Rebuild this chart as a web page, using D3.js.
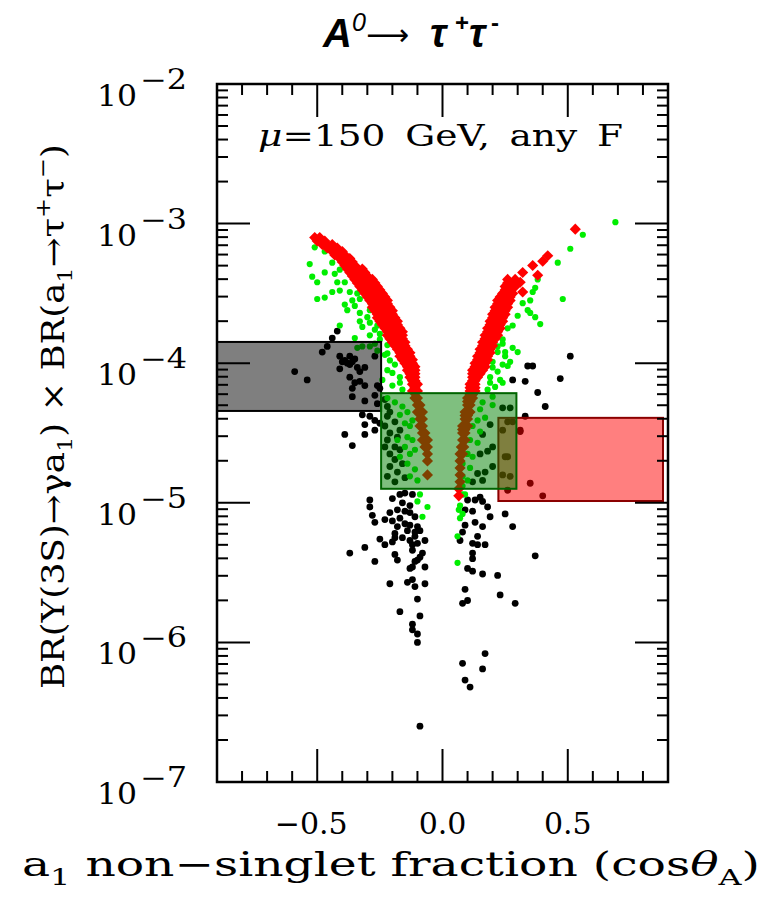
<!DOCTYPE html>
<html>
<head>
<meta charset="utf-8">
<script src="https://cdn.jsdelivr.net/npm/d3@7"></script>
<style>
  body { margin: 0; background: #fff; }
  svg text { fill: #000; }
</style>
</head>
<body>
<div id="chart"></div>
<script>
/*
------------------------------
DATA: points, as [cos(theta_A), log10 BR]
------------------------------
*/
const redPoints = [
  [-0.51,-3.10],[-0.49,-3.10],[-0.50,-3.125],[-0.47,-3.125],
  [-0.48,-3.15],[-0.46,-3.15],[-0.44,-3.15],
  [-0.46,-3.175],[-0.44,-3.175],[-0.42,-3.175],
  [-0.44,-3.20],[-0.42,-3.20],[-0.40,-3.20],
  [-0.43,-3.225],[-0.41,-3.225],[-0.39,-3.225],
  [-0.41,-3.25],[-0.39,-3.25],[-0.37,-3.25],
  [-0.40,-3.275],[-0.38,-3.275],[-0.36,-3.275],
  [-0.39,-3.30],[-0.37,-3.30],[-0.35,-3.30],
  [-0.38,-3.325],[-0.36,-3.325],[-0.34,-3.325],[-0.32,-3.325],
  [-0.37,-3.35],[-0.35,-3.35],[-0.33,-3.35],[-0.31,-3.35],
  [-0.36,-3.375],[-0.34,-3.375],[-0.32,-3.375],[-0.30,-3.375],
  [-0.35,-3.40],[-0.33,-3.40],[-0.30,-3.40],[-0.28,-3.40],
  [-0.34,-3.425],[-0.32,-3.425],[-0.29,-3.425],[-0.27,-3.425],
  [-0.33,-3.45],[-0.31,-3.45],[-0.28,-3.45],[-0.26,-3.45],
  [-0.32,-3.475],[-0.30,-3.475],[-0.27,-3.475],[-0.25,-3.475],
  [-0.31,-3.50],[-0.29,-3.50],[-0.26,-3.50],[-0.24,-3.50],
  [-0.30,-3.525],[-0.28,-3.525],[-0.26,-3.525],[-0.23,-3.525],
  [-0.29,-3.55],[-0.27,-3.55],[-0.25,-3.55],[-0.22,-3.55],
  [-0.28,-3.575],[-0.26,-3.575],[-0.24,-3.575],[-0.22,-3.575],
  [-0.28,-3.60],[-0.25,-3.60],[-0.23,-3.60],[-0.21,-3.60],
  [-0.27,-3.625],[-0.25,-3.625],[-0.22,-3.625],[-0.20,-3.625],
  [-0.26,-3.65],[-0.24,-3.65],[-0.22,-3.65],[-0.20,-3.65],
  [-0.26,-3.675],[-0.23,-3.675],[-0.21,-3.675],[-0.19,-3.675],
  [-0.25,-3.70],[-0.22,-3.70],[-0.20,-3.70],[-0.18,-3.70],
  [-0.24,-3.725],[-0.22,-3.725],[-0.20,-3.725],[-0.18,-3.725],
  [-0.23,-3.75],[-0.21,-3.75],[-0.19,-3.75],[-0.17,-3.75],
  [-0.22,-3.775],[-0.20,-3.775],[-0.18,-3.775],[-0.16,-3.775],
  [-0.22,-3.80],[-0.19,-3.80],[-0.17,-3.80],[-0.16,-3.80],
  [-0.21,-3.825],[-0.19,-3.825],[-0.16,-3.825],
  [-0.20,-3.85],[-0.18,-3.85],[-0.15,-3.85],
  [-0.19,-3.875],[-0.17,-3.875],[-0.15,-3.875],
  [-0.18,-3.90],[-0.16,-3.90],[-0.14,-3.90],
  [-0.17,-3.925],[-0.15,-3.925],[-0.13,-3.925],
  [-0.17,-3.95],[-0.15,-3.95],[-0.13,-3.95],
  [-0.16,-3.975],[-0.14,-3.975],[-0.12,-3.975],
  [-0.15,-4.00],[-0.14,-4.00],[-0.12,-4.00],
  [-0.14,-4.025],[-0.13,-4.025],[-0.11,-4.025],
  [-0.14,-4.05],[-0.12,-4.05],[-0.11,-4.05],
  [-0.13,-4.075],[-0.11,-4.075],
  [-0.13,-4.10],[-0.11,-4.10],
  [-0.12,-4.125],[-0.11,-4.125],
  [-0.12,-4.15],[-0.10,-4.15],
  [-0.11,-4.175],
  [-0.12,-4.20],[-0.10,-4.20],
  [-0.11,-4.25],[-0.10,-4.25],
  [-0.10,-4.30],[-0.09,-4.30],
  [-0.10,-4.35],[-0.08,-4.35],
  [-0.09,-4.40],[-0.08,-4.40],
  [-0.09,-4.45],[-0.08,-4.45],
  [-0.08,-4.50],[-0.07,-4.50],
  [-0.08,-4.55],[-0.06,-4.55],
  [-0.07,-4.60],[-0.06,-4.60],
  [-0.06,-4.65],[-0.06,-4.70],[-0.06,-4.80],
  [0.53,-3.04],[0.42,-3.23],[0.40,-3.27],[0.36,-3.30],[0.38,-3.37],
  [0.32,-3.35],[0.31,-3.42],[0.28,-3.43],[0.32,-3.49],
  [0.26,-3.40],[0.29,-3.40],[0.26,-3.425],[0.28,-3.425],
  [0.25,-3.45],[0.27,-3.45],[0.29,-3.45],
  [0.25,-3.475],[0.27,-3.475],
  [0.24,-3.50],[0.26,-3.50],[0.28,-3.50],
  [0.23,-3.525],[0.25,-3.525],[0.27,-3.525],
  [0.22,-3.55],[0.25,-3.55],[0.27,-3.55],
  [0.22,-3.575],[0.24,-3.575],[0.26,-3.575],
  [0.21,-3.60],[0.24,-3.60],[0.26,-3.60],
  [0.21,-3.625],[0.23,-3.625],[0.25,-3.625],
  [0.20,-3.65],[0.22,-3.65],[0.25,-3.65],
  [0.20,-3.675],[0.22,-3.675],[0.24,-3.675],
  [0.19,-3.70],[0.22,-3.70],[0.24,-3.70],
  [0.19,-3.725],[0.21,-3.725],[0.23,-3.725],
  [0.18,-3.75],[0.20,-3.75],[0.23,-3.75],
  [0.18,-3.775],[0.20,-3.775],[0.22,-3.775],
  [0.17,-3.80],[0.19,-3.80],[0.22,-3.80],
  [0.17,-3.825],[0.19,-3.825],[0.21,-3.825],
  [0.16,-3.85],[0.18,-3.85],[0.20,-3.85],
  [0.16,-3.875],[0.18,-3.875],[0.20,-3.875],
  [0.15,-3.90],[0.17,-3.90],[0.19,-3.90],
  [0.15,-3.925],[0.17,-3.925],[0.19,-3.925],
  [0.14,-3.95],[0.16,-3.95],[0.18,-3.95],
  [0.14,-3.975],[0.16,-3.975],[0.18,-3.975],
  [0.13,-4.00],[0.15,-4.00],[0.17,-4.00],
  [0.13,-4.025],[0.15,-4.025],[0.17,-4.025],
  [0.12,-4.05],[0.14,-4.05],[0.16,-4.05],
  [0.12,-4.075],[0.14,-4.075],[0.15,-4.075],
  [0.12,-4.10],[0.14,-4.10],
  [0.12,-4.125],[0.13,-4.125],
  [0.11,-4.15],[0.13,-4.15],
  [0.11,-4.175],[0.13,-4.175],
  [0.11,-4.20],[0.13,-4.20],
  [0.11,-4.225],[0.12,-4.225],
  [0.10,-4.25],[0.12,-4.25],
  [0.10,-4.275],[0.11,-4.275],
  [0.10,-4.30],[0.11,-4.30],
  [0.09,-4.35],[0.11,-4.35],
  [0.09,-4.375],[0.10,-4.375],
  [0.09,-4.40],[0.10,-4.40],
  [0.08,-4.45],[0.10,-4.45],
  [0.08,-4.475],[0.09,-4.475],
  [0.08,-4.50],[0.09,-4.50],
  [0.08,-4.55],[0.09,-4.55],
  [0.075,-4.60],[0.085,-4.60],
  [0.07,-4.65],[0.08,-4.65],
  [0.07,-4.70],[0.07,-4.75],[0.07,-4.80],[0.07,-4.85],[0.065,-4.90],[0.065,-4.95]
];

const greenPoints = [
  [-0.51,-3.17],[-0.47,-3.20],[-0.53,-3.29],[-0.47,-3.35],[-0.44,-3.28],[-0.52,-3.38],
  [-0.50,-3.42],[-0.43,-3.36],[-0.42,-3.42],[-0.41,-3.33],[-0.39,-3.42],[-0.41,-3.48],
  [-0.44,-3.49],[-0.50,-3.54],[-0.47,-3.53],[-0.37,-3.49],[-0.36,-3.55],[-0.34,-3.50],
  [-0.33,-3.54],[-0.39,-3.58],[-0.38,-3.62],[-0.35,-3.59],[-0.29,-3.62],[-0.33,-3.64],
  [-0.30,-3.67],[-0.33,-3.70],[-0.32,-3.74],[-0.29,-3.71],[-0.26,-3.73],[-0.41,-3.73],
  [-0.35,-3.82],[-0.29,-3.80],[-0.27,-3.76],[-0.25,-3.79],[-0.25,-3.83],[-0.22,-3.87],
  [-0.32,-3.88],[-0.29,-3.88],[-0.27,-3.86],[-0.26,-3.91],[-0.22,-3.93],[-0.34,-3.89],
  [-0.23,-3.94],[-0.21,-3.98],[-0.22,-4.05],[-0.20,-4.07],[-0.19,-4.01],[-0.17,-4.10],
  [-0.17,-4.14],[-0.20,-4.16],[-0.24,-4.12],[-0.16,-4.19],[-0.22,-4.25],[-0.19,-4.28],
  [-0.16,-4.31],[-0.14,-4.35],[-0.17,-4.37],[-0.15,-4.43],[-0.13,-4.45],[-0.12,-4.41],
  [-0.14,-4.53],[-0.12,-4.55],[-0.15,-4.60],[-0.13,-4.65],[-0.11,-4.62],[-0.14,-4.72],
  [-0.11,-4.76],[-0.13,-4.81],[-0.10,-4.84],[-0.18,-4.55],[-0.17,-4.67],[-0.09,-4.94],
  [-0.10,-4.99],[-0.06,-5.03],[-0.08,-5.10],
  [0.69,-2.99],[0.56,-3.08],[0.51,-3.18],[0.46,-3.28],[0.38,-3.40],[0.37,-3.46],
  [0.36,-3.49],[0.48,-3.54],[0.35,-3.55],[0.32,-3.57],[0.34,-3.62],[0.35,-3.64],
  [0.37,-3.67],[0.39,-3.72],[0.30,-3.66],[0.28,-3.73],[0.26,-3.75],[0.24,-3.83],
  [0.24,-3.86],[0.22,-3.88],[0.25,-3.92],[0.28,-3.89],[0.30,-3.92],[0.22,-3.92],
  [0.25,-3.95],[0.27,-3.99],[0.24,-4.01],[0.20,-4.03],[0.22,-4.06],[0.19,-4.10],
  [0.23,-4.12],[0.24,-4.14],[0.21,-4.17],[0.18,-4.19],[0.20,-4.24],[0.16,-4.28],
  [0.20,-4.30],[0.15,-4.33],[0.14,-4.41],[0.17,-4.39],[0.12,-4.45],[0.15,-4.49],
  [0.11,-4.55],[0.14,-4.57],[0.10,-4.65],[0.12,-4.67],[0.08,-4.72],[0.11,-4.75],
  [0.08,-4.81],[0.10,-4.84],[0.08,-4.88],[0.08,-4.94],[0.09,-4.94],[0.07,-5.02],
  [0.065,-5.05],[0.08,-5.08],[0.07,-5.11],[0.06,-5.24],[0.06,-5.43],
  [0.20,-3.99],[0.26,-4.02],[0.19,-4.14]
];

const blackPoints = [
  [-0.42,-3.77],[-0.44,-3.82],[-0.46,-3.88],[-0.48,-3.92],[-0.59,-4.06],[-0.54,-4.12],
  [-0.41,-3.95],[-0.39,-3.98],[-0.37,-3.95],[-0.36,-3.99],[-0.35,-3.97],[-0.38,-4.00],
  [-0.41,-4.04],[-0.34,-4.03],[-0.31,-4.03],[-0.37,-4.10],[-0.35,-4.14],[-0.33,-4.13],
  [-0.31,-4.16],[-0.36,-4.18],[-0.36,-4.24],[-0.26,-4.16],[-0.25,-4.18],[-0.40,-3.99],
  [-0.37,-4.01],[-0.27,-3.95],[-0.33,-4.06],[-0.27,-4.23],[-0.26,-4.29],[-0.31,-4.27],
  [-0.32,-4.37],[-0.29,-4.38],[-0.27,-4.41],[-0.31,-4.44],[-0.39,-4.51],[-0.36,-4.59],
  [-0.27,-4.48],[-0.25,-4.43],[-0.31,-4.51],
  [-0.21,-4.35],[-0.22,-4.38],[-0.19,-4.42],[-0.23,-4.45],[-0.21,-4.50],[-0.18,-4.53],
  [-0.22,-4.55],[-0.19,-4.60],[-0.17,-4.62],[-0.21,-4.65],[-0.19,-4.69],[-0.16,-4.72],
  [-0.21,-4.74],[-0.18,-4.78],[-0.22,-4.81],[-0.19,-4.85],[-0.15,-4.82],[-0.23,-4.60],
  [-0.17,-4.48],[-0.23,-4.26],[-0.22,-4.31],
  [-0.29,-4.98],[-0.29,-5.03],[-0.28,-5.09],[-0.27,-5.14],[-0.20,-4.97],[-0.17,-4.94],
  [-0.15,-4.93],[-0.12,-4.94],[-0.16,-5.00],[-0.13,-5.02],[-0.18,-5.05],[-0.15,-5.06],
  [-0.13,-5.07],[-0.21,-5.07],[-0.11,-5.10],[-0.23,-5.12],[-0.20,-5.13],[-0.17,-5.11],
  [-0.15,-5.15],[-0.18,-5.17],[-0.13,-5.16],[-0.10,-5.17],[-0.11,-5.21],[-0.19,-5.22],
  [-0.14,-5.20],[-0.09,-5.20],[-0.25,-5.26],[-0.19,-5.25],[-0.16,-5.25],[-0.13,-5.27],
  [-0.11,-5.24],[-0.07,-5.27],[-0.23,-5.30],[-0.20,-5.28],[-0.12,-5.30],[-0.10,-5.29],
  [-0.31,-5.32],[-0.37,-5.36],[-0.19,-5.37],[-0.18,-5.41],[-0.27,-5.42],[-0.12,-5.34],
  [-0.08,-5.36],[-0.10,-5.41],[-0.11,-5.42],[-0.09,-5.39],[-0.13,-5.47],[-0.12,-5.46],
  [-0.07,-5.46],[-0.21,-5.58],[-0.14,-5.57],[-0.12,-5.55],[-0.11,-5.60],[-0.07,-5.58],
  [-0.10,-5.69],[-0.17,-5.78],[-0.09,-5.81],[-0.12,-5.87],[-0.12,-5.91],[-0.10,-5.94],
  [-0.10,-6.00],[-0.09,-6.60],
  [0.10,-4.98],[0.13,-4.98],[0.16,-4.99],[0.09,-5.05],[0.12,-5.06],[0.18,-5.03],
  [0.19,-5.10],[0.13,-5.14],[0.09,-5.16],[0.16,-5.17],[0.08,-5.21],[0.14,-5.24],
  [0.07,-5.27],[0.12,-5.29],[0.14,-5.30],[0.17,-5.30],[0.12,-5.36],[0.12,-5.40],
  [0.10,-5.47],[0.12,-5.49],[0.16,-5.51],[0.22,-5.52],[0.09,-5.62],[0.23,-5.66],
  [0.08,-5.72],[0.10,-5.70],[0.29,-5.72],[0.25,-5.08],[0.28,-5.17],[0.37,-5.38],
  [0.17,-6.08],[0.08,-6.15],[0.16,-6.19],[0.09,-6.27],[0.11,-6.32],
  [0.51,-3.95],[0.34,-4.02],[0.36,-4.02],[0.28,-4.12],[0.33,-4.13],[0.47,-4.11],
  [0.38,-4.21],[0.41,-4.31],[0.24,-4.32],[0.27,-4.32],[0.19,-4.44],[0.16,-4.51],
  [0.20,-4.60],[0.18,-4.63],[0.15,-4.65],[0.20,-4.74],[0.17,-4.78],[0.14,-4.79],
  [0.16,-4.84],[0.12,-4.85],[0.27,-4.81],[0.26,-4.67],[0.26,-4.42],[0.31,-4.48],
  [0.35,-4.86],[0.40,-4.95],[0.26,-4.91],[0.15,-4.96],[0.24,-4.48],[0.31,-4.49],
  [0.25,-4.67],[0.24,-4.80],[0.33,-4.38],[0.28,-4.42]
];

// experimental regions: cos(theta_A) extent and BR extent
const boxNames = ["gray", "red", "green"];
const boxCos = [[-0.9, -0.245], [0.223, 0.88], [-0.245, 0.295]];
const boxBR = [[4.55e-5, 1.42e-4], [1.03e-5, 4.06e-5], [1.26e-5, 6.1e-5]];

const xDomain = [-0.9, 0.9];
const yDomain = [1e-7, 1e-2];
const xMajorTicks = [-0.5, 0, 0.5];
const xTickLabels = ["\u22120.5", "0.0", "0.5"];
const yDecades = [-2, -3, -4, -5, -6, -7];

/*
------------------------------
METHOD: set the size of the canvas
------------------------------
*/
const width = 770;
const height = 899;
const margin = { top: 84, right: 102, bottom: 117, left: 217 };

const svg = d3
  .select("#chart")
  .append("svg")
  .attr("width", width)
  .attr("height", height);

const x = d3.scaleLinear().domain(xDomain).range([margin.left, width - margin.right]);
const y = d3.scaleLog().domain(yDomain).range([height - margin.bottom, margin.top]);

const boxFill = { gray: "#000000", red: "#ff0000", green: "#008000" };
const boxStroke = { gray: "#000000", red: "#8b0000", green: "#006400" };

/*
------------------------------
METHOD: draw the points
------------------------------
*/
svg
  .append("g")
  .selectAll("circle")
  .data(blackPoints)
  .enter()
  .append("circle")
  .attr("cx", (d) => x(d[0]))
  .attr("cy", (d) => y(Math.pow(10, d[1])))
  .attr("r", 3.4)
  .attr("fill", "#000");

svg
  .append("g")
  .selectAll("circle")
  .data(greenPoints)
  .enter()
  .append("circle")
  .attr("cx", (d) => x(d[0]))
  .attr("cy", (d) => y(Math.pow(10, d[1])))
  .attr("r", 3.1)
  .attr("fill", "#00ee00");

const diamond = d3.symbol().type(d3.symbolSquare).size(62);
svg
  .append("g")
  .selectAll("path")
  .data(redPoints)
  .enter()
  .append("path")
  .attr("d", diamond)
  .attr("transform", (d) => "translate(" + x(d[0]) + "," + y(Math.pow(10, d[1])) + ") rotate(45)")
  .attr("fill", "#ff0000");

/*
------------------------------
METHOD: draw the boxes (translucent)
------------------------------
*/
svg
  .append("g")
  .selectAll("rect")
  .data(boxNames)
  .enter()
  .append("rect")
  .attr("x", (d, i) => x(boxCos[i][0]))
  .attr("width", (d, i) => x(boxCos[i][1]) - x(boxCos[i][0]))
  .attr("y", (d, i) => y(boxBR[i][1]))
  .attr("height", (d, i) => y(boxBR[i][0]) - y(boxBR[i][1]))
  .attr("fill", (d) => boxFill[d])
  .attr("fill-opacity", 0.5)
  .attr("stroke", (d) => boxStroke[d])
  .attr("stroke-width", 2);

/*
------------------------------
METHOD: frame and ticks on all four sides
------------------------------
*/
const x0 = margin.left, x1 = width - margin.right;
const y0 = height - margin.bottom, y1 = margin.top;
const majorLen = 33, minorLen = 11;
const ticks = svg.append("g").attr("stroke", "#000").attr("stroke-width", 2);

const xMinor = d3.range(-8, 9).map((i) => i / 10).filter((v) => Math.abs(v * 2 - Math.round(v * 2)) > 1e-6);
xMinor.forEach((v) => {
  ticks.append("line").attr("x1", x(v)).attr("x2", x(v)).attr("y1", y0).attr("y2", y0 - minorLen);
  ticks.append("line").attr("x1", x(v)).attr("x2", x(v)).attr("y1", y1).attr("y2", y1 + minorLen);
});
xMajorTicks.forEach((v) => {
  ticks.append("line").attr("x1", x(v)).attr("x2", x(v)).attr("y1", y0).attr("y2", y0 - majorLen);
  ticks.append("line").attr("x1", x(v)).attr("x2", x(v)).attr("y1", y1).attr("y2", y1 + majorLen);
});

yDecades.forEach((e) => {
  const v = Math.pow(10, e);
  ticks.append("line").attr("x1", x0).attr("x2", x0 + majorLen).attr("y1", y(v)).attr("y2", y(v));
  ticks.append("line").attr("x1", x1).attr("x2", x1 - majorLen).attr("y1", y(v)).attr("y2", y(v));
  for (let m = 2; m <= 9; m++) {
    const mv = m * Math.pow(10, e);
    if (mv > yDomain[1]) continue;
    ticks.append("line").attr("x1", x0).attr("x2", x0 + minorLen).attr("y1", y(mv)).attr("y2", y(mv));
    ticks.append("line").attr("x1", x1).attr("x2", x1 - minorLen).attr("y1", y(mv)).attr("y2", y(mv));
  }
});

svg
  .append("rect")
  .attr("x", x0)
  .attr("y", y1)
  .attr("width", x1 - x0)
  .attr("height", y0 - y1)
  .attr("fill", "none")
  .attr("stroke", "#000")
  .attr("stroke-width", 2.5);

/*
------------------------------
METHOD: tick labels
------------------------------
*/
const serif = "'DejaVu Serif', serif";

yDecades.forEach((e) => {
  const yy = y(Math.pow(10, e));
  svg.append("text")
    .attr("x", 97).attr("y", yy + 22)
    .attr("textLength", 40).attr("lengthAdjust", "spacingAndGlyphs")
    .style("font-family", serif).style("font-size", "29px")
    .text("10");
  svg.append("text")
    .attr("x", 140).attr("y", yy + 5)
    .attr("textLength", 47).attr("lengthAdjust", "spacingAndGlyphs")
    .style("font-family", serif).style("font-size", "27px")
    .text("\u2212" + Math.abs(e));
});

xMajorTicks.forEach((v, i) => {
  svg.append("text")
    .attr("x", x(v) - (v < 0 ? 6 : 0)).attr("y", 834)
    .attr("text-anchor", "middle")
    .style("font-family", serif).style("font-size", "30px")
    .text(xTickLabels[i]);
});

/*
------------------------------
METHOD: titles
------------------------------
*/
const xt = svg.append("text")
  .attr("x", 22).attr("y", 876)
  .attr("textLength", 738).attr("lengthAdjust", "spacingAndGlyphs")
  .style("font-family", serif).style("font-size", "34px");
xt.append("tspan").text("a");
xt.append("tspan").attr("dy", 9).style("font-size", "23px").text("1");
xt.append("tspan").attr("dy", -9).text(" non\u2212singlet fraction (cos");
xt.append("tspan").style("font-style", "italic").text("\u03b8");
xt.append("tspan").attr("dy", 9).style("font-size", "23px").text("A");
xt.append("tspan").attr("dy", -9).text(")");

const yt = svg.append("text")
  .attr("transform", "translate(64,417) rotate(-90)")
  .attr("x", -272)
  .attr("textLength", 545).attr("lengthAdjust", "spacingAndGlyphs")
  .style("font-family", serif).style("font-size", "31px");
yt.append("tspan").text("BR(\u03a5(3S)\u2192\u03b3a");
yt.append("tspan").attr("dy", 8).style("font-size", "21px").text("1");
yt.append("tspan").attr("dy", -8).text(") \u00d7 BR(a");
yt.append("tspan").attr("dy", 8).style("font-size", "21px").text("1");
yt.append("tspan").attr("dy", -8).text("\u2192\u03c4");
yt.append("tspan").attr("dy", -14).style("font-size", "21px").text("+");
yt.append("tspan").attr("dy", 14).text("\u03c4");
yt.append("tspan").attr("dy", -14).style("font-size", "21px").text("\u2212");
yt.append("tspan").attr("dy", 14).text(")");

const ann = svg.append("text")
  .attr("x", 258).attr("y", 146)
  .attr("textLength", 365).attr("lengthAdjust", "spacingAndGlyphs")
  .style("font-family", serif).style("font-size", "29px")
  .style("word-spacing", "6px");
ann.append("tspan").style("font-style", "italic").text("\u03bc");
ann.append("tspan").text("=150 GeV, any F");

// title pieces: A^0 -> tau+ tau-
const sans = "'Liberation Sans', Arial, sans-serif";
const titleParts = [
  { t: "A", x: 323, y: 47, size: 40, bold: true, italic: true, font: sans },
  { t: "0", x: 352, y: 31, size: 25, bold: false, italic: true, font: sans },
  { t: "\u27f6", x: 366, y: 45, size: 30, bold: false, italic: false, font: "'DejaVu Sans', sans-serif" },
  { t: "\u03c4", x: 430, y: 47, size: 40, bold: true, italic: true, font: sans },
  { t: "+", x: 455, y: 31, size: 24, bold: true, italic: false, font: sans },
  { t: "\u03c4", x: 469, y: 47, size: 40, bold: true, italic: true, font: sans },
  { t: "-", x: 491, y: 31, size: 24, bold: true, italic: false, font: sans }
];
svg
  .append("g")
  .selectAll("text")
  .data(titleParts)
  .enter()
  .append("text")
  .attr("x", (d) => d.x)
  .attr("y", (d) => d.y)
  .style("font-family", (d) => d.font)
  .style("font-size", (d) => d.size + "px")
  .style("font-weight", (d) => (d.bold ? "bold" : "normal"))
  .style("font-style", (d) => (d.italic ? "italic" : "normal"))
  .text((d) => d.t);
</script>
</body>
</html>
